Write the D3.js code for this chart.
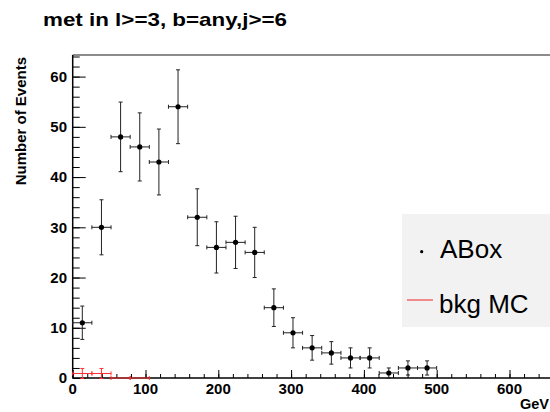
<!DOCTYPE html>
<html><head><meta charset="utf-8">
<script src="https://cdn.jsdelivr.net/npm/d3@7"></script>
<style>
body{margin:0;background:#fff}
svg{display:block}
text{font-family:"Liberation Sans",Arial,Helvetica,sans-serif}
</style></head>
<body><svg id="c" width="550" height="412"></svg>
<script>
// ---- data ----
const title = "met in l>=3, b=any,j>=6";
const xTitle = "GeV";
const yTitle = "Number of Events";
const binCenters = [13.2, 39.5, 65.8, 92.1, 118.4, 144.7, 171.1, 197.4, 223.7, 250.0, 276.3, 302.6, 328.9, 355.3, 381.6, 407.9, 434.2, 460.5, 486.8];
const binHalfWidth = [13.16, 13.16, 13.16, 13.16, 13.16, 13.16, 13.16, 13.16, 13.16, 13.16, 13.16, 13.16, 13.16, 13.16, 13.16, 13.16, 13.16, 13.16, 13.16];
const aboxValues = [11, 30, 48, 46, 43, 54, 32, 26, 27, 25, 14, 9, 6, 5, 4, 4, 1, 2, 2];
const aboxErrors = [3.32, 5.48, 6.93, 6.78, 6.56, 7.35, 5.66, 5.10, 5.20, 5.00, 3.74, 3.00, 2.45, 2.24, 2.00, 2.00, 1.00, 1.41, 1.41];
const bkgCenters = [13.2, 39.5, 65.8, 92.1];
const bkgValues = [0.9, 0.9, 0, 0];
const bkgErrors = [1.0, 1.0, 0, 0];
const xMajorTicks = [0, 100, 200, 300, 400, 500, 600];
const yMajorTicks = [0, 10, 20, 30, 40, 50, 60];
const legendLabels = ["ABox", "bkg MC"];

// ---- layout ----
const svg = d3.select("#c");
const pLeft = 72.7, pTop = 55, pBottom = 378;
const x = d3.scaleLinear().domain([0, 700]).range([pLeft, pLeft + 7 * 72.8]);
const y = d3.scaleLinear().domain([0, 64.3]).range([pBottom, pTop]);

svg.append("rect").attr("width", 550).attr("height", 412).attr("fill", "#fff");

// frame
svg.append("line").attr("x1", pLeft).attr("x2", 550).attr("y1", pTop).attr("y2", pTop)
  .attr("stroke", "#666").attr("stroke-width", 1.5);

// minor ticks
const xMinor = d3.range(0, 701, 20);
const yMinor = d3.range(0, 64.3, 2);
const gx = svg.append("g").attr("transform", `translate(0,${pBottom})`);
gx.call(d3.axisTop(x).tickValues(xMinor).tickSize(4).tickFormat(""));
gx.append("g").call(d3.axisTop(x).tickValues(xMajorTicks.concat([700])).tickSize(8).tickFormat(""));
gx.selectAll(".domain").remove();
gx.selectAll("line").attr("stroke", "#000").attr("stroke-width", 1);
gx.selectAll("text").remove();
svg.append("line").attr("x1", pLeft).attr("x2", 550).attr("y1", pBottom).attr("y2", pBottom)
  .attr("stroke", "#000").attr("stroke-width", 1.5);

const gy = svg.append("g").attr("transform", `translate(${pLeft},0)`);
gy.call(d3.axisRight(y).tickValues(yMinor).tickSize(7).tickFormat(""));
gy.append("g").call(d3.axisRight(y).tickValues(yMajorTicks).tickSize(13).tickFormat(""));
gy.selectAll(".domain").remove();
gy.selectAll("line").attr("stroke", "#000").attr("stroke-width", 1);
svg.append("line").attr("x1", pLeft).attr("x2", pLeft).attr("y1", pTop).attr("y2", pBottom)
  .attr("stroke", "#000").attr("stroke-width", 1.5);

// tick labels
svg.append("g").selectAll("text").data(xMajorTicks).join("text")
  .attr("x", d => x(d)).attr("y", 393.5).attr("text-anchor", "middle")
  .attr("font-size", 15).attr("font-weight", "bold").text(d => d);
svg.append("g").selectAll("text").data(yMajorTicks).join("text")
  .attr("x", 67).attr("y", d => y(d) + 5.3).attr("text-anchor", "end")
  .attr("font-size", 15).attr("font-weight", "bold").text(d => d);

// titles
svg.append("text").attr("x", 43).attr("y", 26).attr("font-size", 19).attr("font-weight", "bold")
  .attr("textLength", 244).attr("lengthAdjust", "spacingAndGlyphs").text(title);
svg.append("text").attr("x", 549).attr("y", 409).attr("text-anchor", "end")
  .attr("font-size", 14.5).attr("font-weight", "bold").text(xTitle);
svg.append("text").attr("transform", `translate(26,57) rotate(-90)`).attr("text-anchor", "end")
  .attr("font-size", 15).attr("font-weight", "bold").text(yTitle);

// error-bar drawing
function drawPoints(centers, vals, errs, color, showMarker) {
  const g = svg.append("g").attr("stroke", color).attr("stroke-width", 1);
  centers.forEach((c, i) => {
    const v = vals[i], e = errs[i], hw = binHalfWidth[i];
    const cx = x(c), cy = y(v);
    g.append("line").attr("x1", x(c - hw)).attr("x2", x(c + hw)).attr("y1", cy).attr("y2", cy);
    g.append("line").attr("x1", x(c - hw)).attr("x2", x(c - hw)).attr("y1", cy - 2).attr("y2", cy + 2);
    g.append("line").attr("x1", x(c + hw)).attr("x2", x(c + hw)).attr("y1", cy - 2).attr("y2", cy + 2);
    if (e > 0) {
      g.append("line").attr("x1", cx).attr("x2", cx).attr("y1", y(v - e)).attr("y2", y(v + e));
      g.append("line").attr("x1", cx - 2).attr("x2", cx + 2).attr("y1", y(v - e)).attr("y2", y(v - e));
      g.append("line").attr("x1", cx - 2).attr("x2", cx + 2).attr("y1", y(v + e)).attr("y2", y(v + e));
    }
    if (showMarker) svg.append("circle").attr("cx", cx).attr("cy", cy).attr("r", 2.6).attr("fill", "#000");
  });
}
drawPoints(bkgCenters, bkgValues, bkgErrors, "#ff3030", false);
drawPoints(binCenters, aboxValues, aboxErrors, "#222", true);

// legend
svg.append("rect").attr("x", 402).attr("y", 214).attr("width", 148).attr("height", 113).attr("fill", "#f2f2f2");
svg.append("circle").attr("cx", 421.7).attr("cy", 251.7).attr("r", 1.6).attr("fill", "#000");
svg.append("text").attr("x", 440).attr("y", 258).attr("font-size", 26).text(legendLabels[0]);
svg.append("line").attr("x1", 407).attr("x2", 433).attr("y1", 300).attr("y2", 300).attr("stroke", "#f06868").attr("stroke-width", 1.5);
svg.append("text").attr("x", 439).attr("y", 313).attr("font-size", 26).text(legendLabels[1]);
</script></body></html>
